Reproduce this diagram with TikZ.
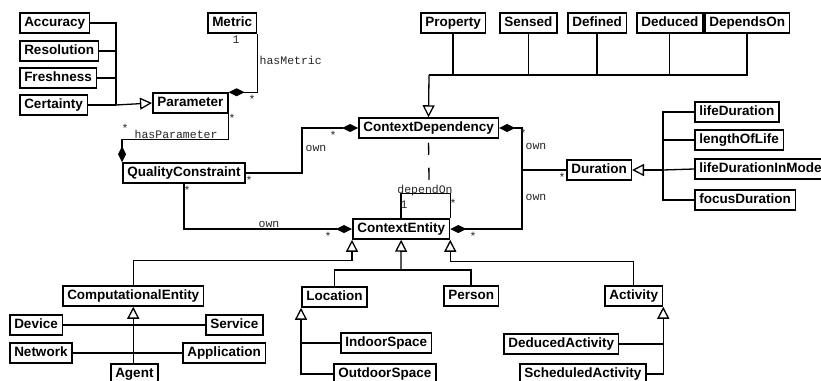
\documentclass[tikz,border=0pt]{standalone}
\usepackage{fontspec}
\setmainfont{Liberation Sans}
\newfontfamily\umlmono{Liberation Mono}
\usetikzlibrary{arrows.meta}

\tikzset{
  cls/.style={draw, fill=white, anchor=west, line width=1.5pt, font=\bfseries\fontsize{13.5}{15}\selectfont,
    inner xsep=4.5pt, inner ysep=0pt, text height=10pt, text depth=3pt, minimum height=20pt},
  lbl/.style={font=\umlmono\fontsize{11.5}{12}\selectfont, inner sep=0pt, text=black!85},
  gen/.style={-{Triangle[open, length=12pt, width=12pt]}},
  comp/.style={-{Diamond[length=16pt, width=8pt]}},
}

\begin{document}
\begin{tikzpicture}[x=1pt, y=-1pt, line width=1.3pt]
\path[use as bounding box, fill=white] (0,0) rectangle (821,380);
\clip (0,0) rectangle (821,380);

% quality part
\node[cls] (acc) at (19,23) {Accuracy};
\node[cls] (res) at (19,51) {Resolution};
\node[cls] (fre) at (19,78) {Freshness};
\node[cls] (cer) at (19,105) {Certainty};
\node[cls] (metric) at (207,23) {Metric};
\node[cls] (param) at (152,103) {Parameter};
\node[cls] (qc) at (122,173) {QualityConstraint};

% dependency part
\node[cls] (prop) at (420,23) {Property};
\node[cls] (sensed) at (499,23) {Sensed};
\node[cls] (defined) at (567,23) {Defined};
\node[cls] (deduced) at (636,23) {Deduced};
\node[cls] (dependsOn) at (704,23) {DependsOn};
\node[cls] (cdep) at (358,128) {ContextDependency};

% duration part
\node[cls] (dur) at (566,170) {Duration};
\node[cls] (lifeDur) at (694,112) {lifeDuration};
\node[cls] (lenLife) at (694,140) {lengthOfLife};
\node[cls] (lifeModel) at (694,169) {lifeDurationInModel};
\node[cls] (focusDur) at (694,200) {focusDuration};

% entities
\node[cls] (cent) at (352,229) {ContextEntity};
\node[cls] (compEnt) at (62,296) {ComputationalEntity};
\node[cls] (loc) at (301,297) {Location};
\node[cls] (person) at (443,296) {Person};
\node[cls] (activity) at (604,296) {Activity};
\node[cls] (device) at (9,325) {Device};
\node[cls] (service) at (205,325) {Service};
\node[cls] (network) at (9,353) {Network};
\node[cls] (application) at (182,353) {Application};
\node[cls] (agent) at (110,374) {Agent};
\node[cls] (indoor) at (340,343) {IndoorSpace};
\node[cls] (outdoor) at (333,374) {OutdoorSpace};
\node[cls] (dedAct) at (503,344) {DeducedActivity};
\node[cls] (schedAct) at (519,374) {ScheduledActivity};

% bus points
\coordinate (qualBus) at (116,105);
\coordinate (busL) at (302,150);
\coordinate (busR) at (522,170);
\coordinate (durBus) at (663,170);
\coordinate (topBus) at (429,75);
\coordinate (depEnd) at (429,181);
\coordinate (midBus) at (401,270);

% quality generalisation
\draw (acc.east) -| (qualBus);
\draw (res.east) -| (qualBus);
\draw (fre.east) -| (qualBus);
\draw (cer.east) -- (qualBus);
\draw[gen] (qualBus) -- (param.west);

% associations
\draw[comp] (metric.south east) |- (param.north east)
  node[lbl] (mM1) at (236,40) {1}
  node[lbl] (mM2) at (252,99) {*}
  node[lbl, anchor=west] (hasMetricLbl) at (259,60) {hasMetric};
\draw[comp] (param.south east) -- ++(0,26) -| (qc.north west)
  node[lbl] (mP1) at (232,118) {*}
  node[lbl] (mP2) at (125,128) {*}
  node[lbl, anchor=base west] (hasParamLbl) at (134,138) {hasParameter};
\draw[comp] (qc.east) -| (busL) |- (cdep.west)
  node[lbl] (mQ1) at (249,180) {*}
  node[lbl] (mQ2) at (333,135) {*}
  node[lbl, anchor=west] (ownA) at (305,148) {own};
\draw[comp] (qc.south) |- (cent.west)
  node[lbl] (mQ3) at (187,190) {*}
  node[lbl] (mQ4) at (328,236) {*}
  node[lbl, anchor=base west] (ownB) at (258,227) {own};
\draw[comp] (busR) |- (cdep.east)
  node[lbl] (mD1) at (523,133) {*}
  node[lbl, anchor=west] (ownC) at (525,146) {own};
\draw[comp] (busR) |- (cent.east)
  node[lbl] (mD2) at (473,236) {*}
  node[lbl, anchor=west] (ownD) at (525,197) {own};
\draw (busR) -- (dur.west)
  node[lbl] (mD3) at (562,177) {*};

% dependOn
\draw[dash pattern=on 12pt off 13pt, dash phase=21pt] (cdep.south) -- (depEnd);
\draw (cent.north) -- ++(0,-25) -| (cent.north east)
  node[lbl, anchor=base] (dependOnLbl) at (425,193) {dependOn}
  node[lbl] (mE1) at (404,205) {1}
  node[lbl] (mE2) at (453,203) {*};

% dependency kinds
\draw[gen] (topBus) -- (cdep.north);
\foreach \k in {prop, sensed, defined, deduced, dependsOn}
  \draw (\k.south) |- (topBus);

% duration kinds
\draw[gen] (durBus) -- (dur.east);
\draw (lifeDur.west) -| (durBus);
\draw (lenLife.west) -| (durBus);
\draw (lifeModel.west) -- (durBus);
\draw (focusDur.west) -| (durBus);

% entity kinds
\draw[gen] (compEnt.north) -- ++(0,-25) -| (cent.south west);
\draw[gen] (activity.north) -- ++(0,-24) -| (cent.south east);
\draw[gen] (midBus) -- (cent.south);
\draw (loc.north) |- (midBus);
\draw (person.north) |- (midBus);

% computational entity kinds
\draw (device.east) -- (service.west);
\draw (network.east) -- (application.west);
\draw[gen] (agent.north -| compEnt.south) -- (compEnt.south);

% location kinds
\draw[gen] (outdoor.west) -| (loc.south west);
\draw (indoor.west) -- (indoor.west -| loc.south west);

% activity kinds
\draw[gen] (schedAct.east) -| (activity.south east);
\draw (dedAct.east) -- (dedAct.east -| activity.south east);
\end{tikzpicture}
\end{document}
